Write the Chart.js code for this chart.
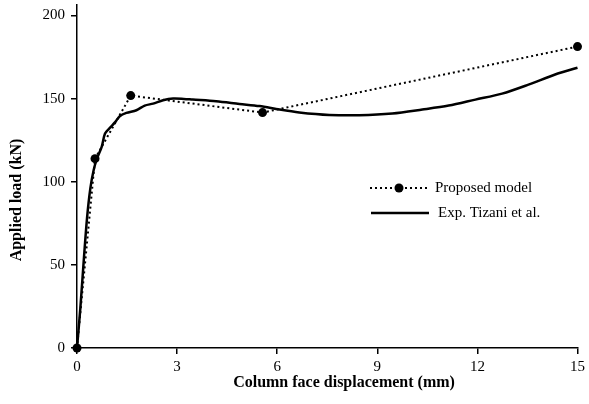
<!DOCTYPE html>
<html>
<head>
<meta charset="utf-8">
<script src="https://cdn.jsdelivr.net/npm/chart.js@4"></script>
<style>
html,body{margin:0;padding:0;background:#fff;}
#wrap{width:589px;height:404px;}
</style>
</head>
<body>
<div id="wrap"><canvas id="c" width="589" height="404"></canvas></div>
<script>
const modelX = [0, 0.54, 1.61, 5.56, 15.0];
const modelY = [0, 113.9, 151.8, 141.6, 181.3];
const expX = [0, 0.1, 0.2, 0.3, 0.4, 0.5, 0.6, 0.74, 0.84, 0.99, 1.15, 1.28, 1.48, 1.78, 2.03, 2.28, 2.58, 2.88, 3.2, 3.47, 4.17, 4.87, 5.47, 6.07, 6.66, 7.56, 8.46, 9.45, 10.35, 11.14, 11.94, 12.74, 13.53, 14.33, 15.0];
const expY = [0, 24, 52, 78, 96, 107, 114, 121, 129, 132.5, 136, 139.4, 141.4, 143, 145.8, 147, 149, 150, 149.8, 149.4, 148.4, 146.8, 145.5, 143.4, 141.7, 140.2, 140, 141, 143.4, 145.8, 149.4, 153, 158.4, 164.5, 168.6];
const xTicks = [0, 3, 6, 9, 12, 15];
const yTicks = [0, 50, 100, 150, 200];
const seriesNames = ['Proposed model', 'Exp. Tizani et al.'];
const xTitle = 'Column face displacement (mm)';
const yTitle = 'Applied load (kN)';

const FONT = "'Liberation Serif', 'Times New Roman', serif";

const textPlugin = {
  id: 'inLegend',
  afterDraw(chart) {
    const ctx = chart.ctx;
    const ds = chart.data.datasets;
    ctx.save();
    ctx.fillStyle = '#000';
    ctx.strokeStyle = '#000';
    ctx.textBaseline = 'middle';
    // axis titles
    ctx.font = "bold 16px " + FONT;
    ctx.textAlign = 'center';
    ctx.fillText(xTitle, 344, 383);
    ctx.save();
    ctx.translate(17, 200);
    ctx.rotate(-Math.PI / 2);
    ctx.fillText(yTitle, 0, 0);
    ctx.restore();
    // legend
    ctx.textAlign = 'left';
    ctx.font = "15px " + FONT;
    let y = 188;
    ctx.lineWidth = ds[0].borderWidth;
    ctx.setLineDash(ds[0].borderDash);
    ctx.beginPath(); ctx.moveTo(370, y); ctx.lineTo(428, y); ctx.stroke();
    ctx.setLineDash([]);
    ctx.beginPath(); ctx.arc(399, y, ds[0].pointRadius, 0, Math.PI * 2); ctx.fill();
    ctx.fillText(ds[0].label, 435, y);
    y = 213;
    ctx.lineWidth = ds[1].borderWidth;
    ctx.beginPath(); ctx.moveTo(371, y); ctx.lineTo(429, y); ctx.stroke();
    ctx.fillText(ds[1].label, 438, y);
    ctx.restore();
  }
};

new Chart(document.getElementById('c'), {
  type: 'scatter',
  data: {
    datasets: [
      {
        label: seriesNames[0],
        data: modelX.map((x, i) => ({x, y: modelY[i]})),
        showLine: true,
        borderColor: '#000',
        backgroundColor: '#000',
        borderWidth: 2,
        borderDash: [2, 3],
        pointRadius: 4.5,
        pointBorderWidth: 0,
        pointBackgroundColor: '#000',
        tension: 0,
        clip: false,
        order: 1
      },
      {
        label: seriesNames[1],
        data: expX.map((x, i) => ({x, y: expY[i]})),
        showLine: true,
        borderColor: '#000',
        backgroundColor: '#000',
        borderWidth: 2.5,
        pointRadius: 0,
        tension: 0.3,
        clip: false,
        order: 2
      }
    ]
  },
  options: {
    responsive: false,
    animation: false,
    events: [],
    layout: { padding: { top: 4, right: 10, left: 0, bottom: 0 } },
    plugins: { legend: { display: false }, tooltip: { enabled: false } },
    scales: {
      x: {
        type: 'linear', min: 0, max: 15,
        afterBuildTicks: (s) => { s.ticks = xTicks.map(v => ({value: v})); },
        afterFit: (s) => { s.height = 56; },
        ticks: { color: '#000', font: { family: FONT, size: 15 }, padding: 4, maxRotation: 0 },
        grid: { drawOnChartArea: false, drawTicks: true, tickLength: 6, color: '#000', lineWidth: 1.5 },
        border: { color: '#000', width: 1.5 },
        title: { display: false }
      },
      y: {
        type: 'linear', min: 0, max: 206.6,
        afterBuildTicks: (s) => { s.ticks = yTicks.map(v => ({value: v})); },
        afterFit: (s) => { s.width = 77; s.paddingTop = 0; s.paddingBottom = 0; },
        ticks: { color: '#000', font: { family: FONT, size: 15 }, padding: 6 },
        grid: { drawOnChartArea: false, drawTicks: true, tickLength: 6, color: '#000', lineWidth: 1.5 },
        border: { color: '#000', width: 1.5 },
        title: { display: false }
      }
    }
  },
  plugins: [textPlugin]
});
</script>
</body>
</html>
